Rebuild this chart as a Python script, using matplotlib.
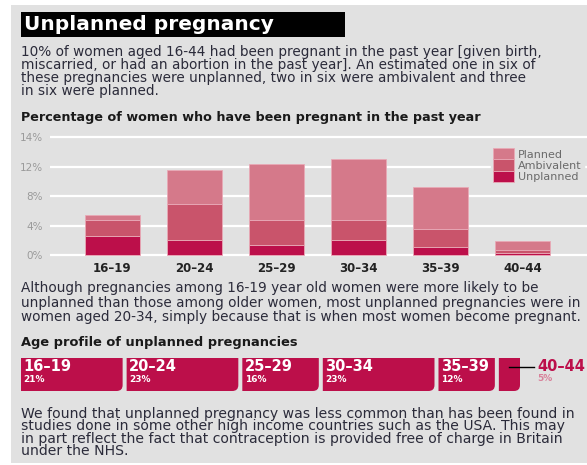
import matplotlib
matplotlib.use("Agg")
import matplotlib.pyplot as plt
from matplotlib.patches import Rectangle, PathPatch
from matplotlib.path import Path

# data (bar heights in grid units, 4 units per gridline)
ages = ["16–19", "20–24", "25–29", "30–34", "35–39", "40–44"]
unplanned = [2.6, 2.1, 1.4, 2.1, 1.1, 0.35]
ambivalent = [2.2, 4.8, 3.4, 2.7, 2.5, 0.4]
planned = [0.6, 4.6, 7.5, 8.2, 5.6, 1.15]
ytick_vals = [0, 4, 8, 12, 16]
ytick_labels = ["0%", "4%", "8%", "12%", "14%"]
share_unplanned = [21, 23, 16, 23, 12, 5]

W, H = 587, 465
BG = "#e1e1e1"
C_UNP = "#bc0f4a"
C_AMB = "#c9546b"
C_PLA = "#d5798a"
TXT = "#2b2b3a"

def fx(x):
    return x / W

def fy(y):
    return 1 - y / H

fig = plt.figure(figsize=(W / 100, H / 100), dpi=100)
fig.patch.set_facecolor("white")
fig.patches.append(Rectangle((fx(11), fy(463)), fx(W) - fx(11), fy(5) - fy(463),
                             transform=fig.transFigure, facecolor=BG, edgecolor="none", zorder=-5))

# title bar
fig.patches.append(Rectangle((fx(21), fy(37)), fx(345) - fx(21), fy(12) - fy(37),
                             transform=fig.transFigure, facecolor="black", edgecolor="none", zorder=1))
fig.text(fx(24), fy(25), "Unplanned pregnancy", color="white", fontsize=14.5, fontweight="bold",
         va="center", ha="left", zorder=2)

para1 = ("10% of women aged 16-44 had been pregnant in the past year [given birth,\n"
         "miscarried, or had an abortion in the past year]. An estimated one in six of\n"
         "these pregnancies were unplanned, two in six were ambivalent and three\n"
         "in six were planned.")
fig.text(fx(21), fy(71.5), para1, color=TXT, fontsize=9.8, va="center", ha="left", linespacing=0.93)

fig.text(fx(21), fy(117), "Percentage of women who have been pregnant in the past year",
         color="#1a1a1a", fontsize=9.2, fontweight="bold", va="center", ha="left")

# stacked bar chart
px_per_unit = (255.3 - 137) / 16
ylo, yhi = -0.3, 16.3
ax_bot = 255.3 + (0 - ylo) * px_per_unit
ax_top = 255.3 - (yhi - 0) * px_per_unit
x_left_px, x_right_px = 50, 587
step_px = 82
c0 = 112.5
xlo = (x_left_px - c0) / step_px
xhi = (x_right_px - c0) / step_px
ax = fig.add_axes([fx(x_left_px), fy(ax_bot), fx(x_right_px) - fx(x_left_px), fy(ax_top) - fy(ax_bot)])
ax.patch.set_alpha(0)
ax.set_xlim(xlo, xhi)
ax.set_ylim(ylo, yhi)
for s in ax.spines.values():
    s.set_visible(False)
for v in ytick_vals:
    ax.axhline(v, color="white", lw=1.6, zorder=1)

pos = list(range(len(ages)))
bw = 55 / step_px
edge = "#e9a9b6"
ax.bar(pos, unplanned, bw, color=C_UNP, edgecolor=edge, lw=0.6, zorder=2, label="Unplanned")
b2 = [u for u in unplanned]
ax.bar(pos, ambivalent, bw, bottom=b2, color=C_AMB, edgecolor=edge, lw=0.6, zorder=2, label="Ambivalent")
b3 = [u + a for u, a in zip(unplanned, ambivalent)]
ax.bar(pos, planned, bw, bottom=b3, color=C_PLA, edgecolor=edge, lw=0.6, zorder=2, label="Planned")

ax.set_yticks(ytick_vals)
ax.set_yticklabels(ytick_labels, color="#9a9a9a", fontsize=7.5)
ax.set_xticks(pos)
ax.set_xticklabels(ages, color="#222222", fontsize=8.5, fontweight="bold")
ax.tick_params(length=0, pad=3)
ax.tick_params(axis="y", pad=5)

# legend, top-left corner at about (491, 146) px
h, l = ax.get_legend_handles_labels()
leg = ax.legend(h[::-1], l[::-1], loc="upper left",
                bbox_to_anchor=((491 - x_left_px) / (x_right_px - x_left_px), (ax_bot - 146) / (ax_bot - ax_top)),
                bbox_transform=ax.transAxes, frameon=True, fontsize=8, handlelength=1.9, handleheight=1.15,
                handletextpad=0.3, labelspacing=0.0, borderpad=0.2, borderaxespad=0)
leg.get_frame().set_facecolor(BG)
leg.get_frame().set_edgecolor(BG)
leg.get_frame().set_alpha(1)
leg.get_frame().set_boxstyle("square", pad=0)
leg.set_zorder(5)
for t in leg.get_texts():
    t.set_color("#6a6a6a")

para2 = ("Although pregnancies among 16-19 year old women were more likely to be\n"
         "unplanned than those among older women, most unplanned pregnancies were in\n"
         "women aged 20-34, simply because that is when most women become pregnant.")
fig.text(fx(21), fy(302.5), para2, color=TXT, fontsize=9.8, va="center", ha="left", linespacing=1.03)

fig.text(fx(21), fy(342), "Age profile of unplanned pregnancies", color="#1a1a1a", fontsize=9.4,
         fontweight="bold", va="center", ha="left")

# age profile strip: x in percent
strip_left, strip_w = 21, 503
ax2 = fig.add_axes([fx(strip_left), fy(391), fx(strip_left + strip_w) - fx(strip_left), fy(358) - fy(391)])
ax2.set_xlim(0, 100)
ax2.set_ylim(0, 1)
ax2.axis("off")
gap = 4 * 100 / strip_w
r = 6 * 100 / strip_w
ry = 6 / 33
cum = 0
for lab, p in zip(ages, share_unplanned):
    x0, x1 = cum, cum + p - gap
    verts = [(x0, 1), (x1, 1), (x1, ry), (x1, 0), (x1 - r, 0), (x0, 0), (x0, 1)]
    codes = [Path.MOVETO, Path.LINETO, Path.LINETO, Path.CURVE3, Path.CURVE3, Path.LINETO, Path.CLOSEPOLY]
    ax2.add_patch(PathPatch(Path(verts, codes), facecolor=C_UNP, edgecolor="none"))
    if p > 8:
        ax2.text(x0 + 0.5, 0.74, lab, color="white", fontsize=10.5, fontweight="bold", va="center", ha="left")
        ax2.text(x0 + 0.5, 0.35, f"{p}%", color="white", fontsize=6.5, fontweight="bold", va="center", ha="left")
    else:
        xm = (x0 + x1) / 2
        ax2.plot([xm, cum + p + 2.0], [0.73, 0.73], color="black", lw=1, clip_on=False)
        ax2.text(cum + p + 2.6, 0.73, lab, color=C_UNP, fontsize=10.5, fontweight="bold", va="center", ha="left",
                 clip_on=False)
        ax2.text(cum + p + 2.6, 0.37, f"{p}%", color="#d8819a", fontsize=6.5, fontweight="bold", va="center",
                 ha="left", clip_on=False)
    cum += p

para3 = ("We found that unplanned pregnancy was less common than has been found in\n"
         "studies done in some other high income countries such as the USA. This may\n"
         "in part reflect the fact that contraception is provided free of charge in Britain\n"
         "under the NHS.")
fig.text(fx(21), fy(432.5), para3, color=TXT, fontsize=10.1, va="center", ha="left", linespacing=0.86)

fig.savefig("out.png", dpi=100, facecolor=fig.get_facecolor())
